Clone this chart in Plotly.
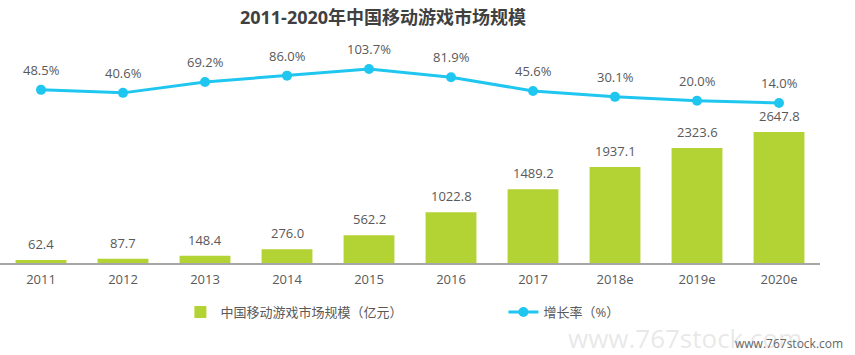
import plotly.graph_objects as go

years = ["2011", "2012", "2013", "2014", "2015", "2016", "2017", "2018e", "2019e", "2020e"]
market_size = [62.4, 87.7, 148.4, 276.0, 562.2, 1022.8, 1489.2, 1937.1, 2323.6, 2647.8]
growth_rate = [48.5, 40.6, 69.2, 86.0, 103.7, 81.9, 45.6, 30.1, 20.0, 14.0]

FONT = "Open Sans, Noto Sans CJK SC, sans-serif"
BAR_C = "#b3d234"
LINE_C = "#1fc6ef"
TXT_C = "#595959"

idx = list(range(len(years)))

fig = go.Figure()
fig.add_trace(go.Bar(
    x=idx, y=market_size, name="中国移动游戏市场规模（亿元）",
    marker=dict(color=BAR_C, line=dict(width=0)), width=0.62,
))
fig.add_trace(go.Scatter(
    x=idx, y=growth_rate, name="增长率（%）", yaxis="y2",
    mode="lines+markers",
    line=dict(color=LINE_C, width=3),
    marker=dict(color=LINE_C, size=10),
))

ann = []
for i, v in zip(idx, market_size):
    ann.append(dict(x=i, y=v, xref="x", yref="y", text=f"{v:.1f}", showarrow=False,
                    yshift=16, font=dict(size=13, color=TXT_C, family=FONT)))
for i, v in zip(idx, growth_rate):
    ann.append(dict(x=i, y=v, xref="x", yref="y2", text=f"{v:.1f}%", showarrow=False,
                    yshift=20, font=dict(size=13, color=TXT_C, family=FONT)))
# watermark
ann.append(dict(x=0.98, y=-0.335, xref="paper", yref="paper", text="www.767stock.com",
                showarrow=False, xanchor="right", yanchor="middle",
                font=dict(size=26, color="rgba(190,190,190,0.35)", family=FONT)))
ann.append(dict(x=1.03, y=-0.36, xref="paper", yref="paper", text="www.767stock.com",
                showarrow=False, xanchor="right", yanchor="middle",
                font=dict(size=12, color="#666666", family=FONT)))

fig.update_layout(
    width=855, height=355,
    margin=dict(l=0, r=35, t=40, b=92),
    paper_bgcolor="white", plot_bgcolor="white",
    title=dict(text="<b>2011-2020年中国移动游戏市场规模</b>", x=383/855, xanchor="center",
               y=1 - 18/355, yanchor="middle",
               font=dict(size=18, color="#404040", family=FONT)),
    font=dict(family=FONT, color=TXT_C, size=13),
    showlegend=True,
    legend=dict(orientation="h", x=0.22, xanchor="left", y=-0.22, yanchor="middle",
                font=dict(size=13, color=TXT_C, family=FONT), entrywidth=278,
                itemwidth=30, bgcolor="rgba(0,0,0,0)"),
    xaxis=dict(range=[-0.5, len(years) - 0.5], tickmode="array", tickvals=idx, ticktext=years,
               showgrid=False, zeroline=False, showline=True, linecolor="#a6a6a6", linewidth=1.5,
               ticks="", ticklabelstandoff=4, tickfont=dict(size=13, color=TXT_C),
               fixedrange=True, automargin=False),
    yaxis=dict(range=[0, 4505], visible=False, showgrid=False, zeroline=False),
    yaxis2=dict(range=[-408, 180], overlaying="y", visible=False, showgrid=False, zeroline=False),
    annotations=ann,
)

fig.write_html("out.html", config={"displayModeBar": False},
               post_script="document.body.style.margin='0';")
